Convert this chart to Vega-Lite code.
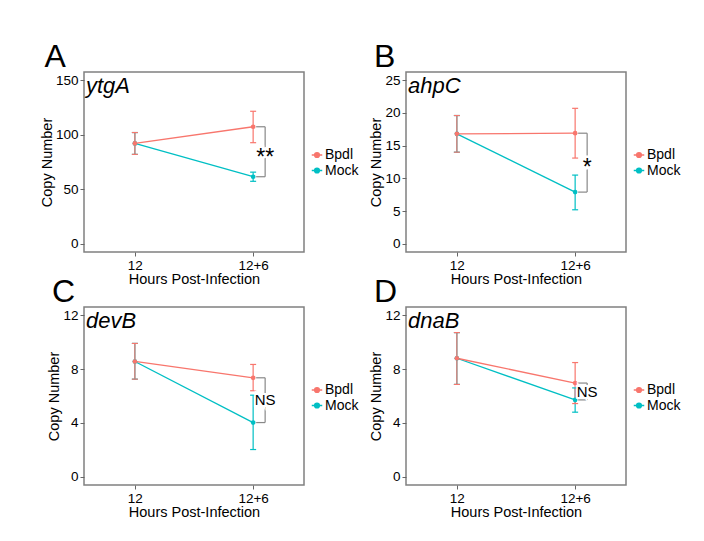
{
  "$schema": "https://vega.github.io/schema/vega-lite/v6.json",
  "background": "white",
  "padding": {"left": 38, "top": 40, "right": 5, "bottom": 5},
  "datasets": {
    "means": [
      {"panel": "A", "hours": "12", "group": "Mock", "mean": 92, "lo": 82, "hi": 102},
      {"panel": "A", "hours": "12", "group": "Bpdl", "mean": 92, "lo": 82, "hi": 102},
      {"panel": "A", "hours": "12+6", "group": "Mock", "mean": 61.5, "lo": 57.3, "hi": 65.7},
      {"panel": "A", "hours": "12+6", "group": "Bpdl", "mean": 107.3, "lo": 92.7, "hi": 121.5},
      {"panel": "B", "hours": "12", "group": "Mock", "mean": 16.8, "lo": 14.0, "hi": 19.6},
      {"panel": "B", "hours": "12", "group": "Bpdl", "mean": 16.8, "lo": 14.0, "hi": 19.6},
      {"panel": "B", "hours": "12+6", "group": "Mock", "mean": 7.9, "lo": 5.2, "hi": 10.5},
      {"panel": "B", "hours": "12+6", "group": "Bpdl", "mean": 16.9, "lo": 13.1, "hi": 20.7},
      {"panel": "C", "hours": "12", "group": "Mock", "mean": 8.56, "lo": 7.25, "hi": 9.9},
      {"panel": "C", "hours": "12", "group": "Bpdl", "mean": 8.56, "lo": 7.25, "hi": 9.9},
      {"panel": "C", "hours": "12+6", "group": "Mock", "mean": 4.03, "lo": 2.03, "hi": 6.06},
      {"panel": "C", "hours": "12+6", "group": "Bpdl", "mean": 7.35, "lo": 6.39, "hi": 8.34},
      {"panel": "D", "hours": "12", "group": "Mock", "mean": 8.8, "lo": 6.86, "hi": 10.7},
      {"panel": "D", "hours": "12", "group": "Bpdl", "mean": 8.8, "lo": 6.86, "hi": 10.7},
      {"panel": "D", "hours": "12+6", "group": "Mock", "mean": 5.71, "lo": 4.8, "hi": 6.6},
      {"panel": "D", "hours": "12+6", "group": "Bpdl", "mean": 6.96, "lo": 5.44, "hi": 8.48}
    ],
    "sig": [
      {"panel": "A", "hi": 107.3, "lo": 61.5, "mid": 84.4, "label": "**"},
      {"panel": "B", "hi": 16.9, "lo": 7.9, "mid": 12.4, "label": "*"},
      {"panel": "C", "hi": 7.35, "lo": 4.03, "mid": 5.69, "label": "NS"},
      {"panel": "D", "hi": 6.96, "lo": 5.71, "mid": 6.33, "label": "NS"}
    ],
    "genes": [
      {"panel": "A", "gene": "ytgA"},
      {"panel": "B", "gene": "ahpC"},
      {"panel": "C", "gene": "devB"},
      {"panel": "D", "gene": "dnaB"}
    ]
  },
  "columns": 2,
  "bounds": "flush",
  "spacing": {"row": 55, "column": 102},
  "resolve": {"scale": {"color": "independent"}, "legend": {"color": "independent"}},
  "concat": [
    {
      "width": 220, "height": 180,
      "title": {"text": "A"},
      "resolve": {"scale": {"x": "independent"}},
      "layer": [
        {
          "layer": [
            {"data": {"name": "means"}, "transform": [{"filter": "datum.panel === 'A'"}],
             "mark": {"type": "line", "strokeWidth": 1.3},
             "encoding": {
               "x": {"field": "hours", "type": "ordinal", "scale": {"type": "point", "padding": 0.43, "domain": ["12", "12+6"]}, "axis": {"title": "Hours Post-Infection", "labelAngle": 0}},
               "y": {"field": "mean", "type": "quantitative", "scale": {"domain": [-7.5, 157.5], "nice": false, "zero": false}, "axis": {"title": "Copy Number", "values": [0, 50, 100, 150], "tickCount": 10}},
               "color": {"field": "group", "type": "nominal", "scale": {"domain": ["Bpdl", "Mock"], "range": ["#F8766D", "#00BFC4"]}}
             }},
            {"data": {"name": "means"}, "transform": [{"filter": "datum.panel === 'A'"}],
             "mark": {"type": "rule", "strokeWidth": 1.2},
             "encoding": {"x": {"field": "hours", "type": "ordinal"}, "y": {"field": "lo", "type": "quantitative"}, "y2": {"field": "hi"}, "color": {"field": "group", "type": "nominal"}}},
            {"data": {"name": "means"}, "transform": [{"filter": "datum.panel === 'A'"}],
             "mark": {"type": "tick", "orient": "horizontal", "size": 6, "thickness": 1.2, "opacity": 1},
             "encoding": {"x": {"field": "hours", "type": "ordinal"}, "y": {"field": "lo", "type": "quantitative"}, "color": {"field": "group", "type": "nominal"}}},
            {"data": {"name": "means"}, "transform": [{"filter": "datum.panel === 'A'"}],
             "mark": {"type": "tick", "orient": "horizontal", "size": 6, "thickness": 1.2, "opacity": 1},
             "encoding": {"x": {"field": "hours", "type": "ordinal"}, "y": {"field": "hi", "type": "quantitative"}, "color": {"field": "group", "type": "nominal"}}},
            {"data": {"name": "means"}, "transform": [{"filter": "datum.panel === 'A'"}],
             "mark": {"type": "point", "filled": true, "size": 22, "opacity": 1},
             "encoding": {"x": {"field": "hours", "type": "ordinal"}, "y": {"field": "mean", "type": "quantitative"}, "color": {"field": "group", "type": "nominal"}}},
            {"data": {"name": "sig"}, "transform": [{"filter": "datum.panel === 'A'"}],
             "mark": {"type": "rule", "color": "#888888", "strokeWidth": 1.2, "xOffset": 12},
             "encoding": {"x": {"datum": "12+6", "type": "ordinal"}, "y": {"field": "hi", "type": "quantitative"}, "y2": {"field": "lo"}}},
            {"data": {"name": "sig"}, "transform": [{"filter": "datum.panel === 'A'"}],
             "mark": {"type": "rule", "color": "#888888", "strokeWidth": 1.2, "xOffset": 3, "x2Offset": 12},
             "encoding": {"x": {"datum": "12+6", "type": "ordinal"}, "x2": {"datum": "12+6"}, "y": {"field": "hi", "type": "quantitative"}}},
            {"data": {"name": "sig"}, "transform": [{"filter": "datum.panel === 'A'"}],
             "mark": {"type": "rule", "color": "#888888", "strokeWidth": 1.2, "xOffset": 3, "x2Offset": 12},
             "encoding": {"x": {"datum": "12+6", "type": "ordinal"}, "x2": {"datum": "12+6"}, "y": {"field": "lo", "type": "quantitative"}}},
            {"data": {"name": "sig"}, "transform": [{"filter": "datum.panel === 'A'"}],
             "mark": {"type": "text", "fontSize": 23, "xOffset": 12, "dy": 6, "fill": "white", "stroke": "white", "strokeWidth": 5},
             "encoding": {"x": {"datum": "12+6", "type": "ordinal"}, "y": {"field": "mid", "type": "quantitative"}, "text": {"field": "label"}}},
            {"data": {"name": "sig"}, "transform": [{"filter": "datum.panel === 'A'"}],
             "mark": {"type": "text", "fontSize": 23, "xOffset": 12, "dy": 6, "color": "black"},
             "encoding": {"x": {"datum": "12+6", "type": "ordinal"}, "y": {"field": "mid", "type": "quantitative"}, "text": {"field": "label"}}}
          ]
        },
        {"data": {"name": "genes"}, "transform": [{"filter": "datum.panel === 'A'"}],
         "mark": {"type": "text", "align": "left", "baseline": "alphabetic", "fontStyle": "italic", "fontSize": 22, "dx": 2, "dy": 21, "color": "black"},
         "encoding": {"x": {"datum": 0, "type": "quantitative", "scale": {"domain": [0, 1]}, "axis": null}, "y": {"datum": 157.5, "type": "quantitative"}, "text": {"field": "gene"}}}
      ]
    },
    {
      "width": 220, "height": 180,
      "title": {"text": "B"},
      "resolve": {"scale": {"x": "independent"}},
      "layer": [
        {
          "layer": [
            {"data": {"name": "means"}, "transform": [{"filter": "datum.panel === 'B'"}],
             "mark": {"type": "line", "strokeWidth": 1.3},
             "encoding": {
               "x": {"field": "hours", "type": "ordinal", "scale": {"type": "point", "padding": 0.43, "domain": ["12", "12+6"]}, "axis": {"title": "Hours Post-Infection", "labelAngle": 0}},
               "y": {"field": "mean", "type": "quantitative", "scale": {"domain": [-1.25, 26.25], "nice": false, "zero": false}, "axis": {"title": "Copy Number", "values": [0, 5, 10, 15, 20, 25], "tickCount": 10}},
               "color": {"field": "group", "type": "nominal", "scale": {"domain": ["Bpdl", "Mock"], "range": ["#F8766D", "#00BFC4"]}}
             }},
            {"data": {"name": "means"}, "transform": [{"filter": "datum.panel === 'B'"}],
             "mark": {"type": "rule", "strokeWidth": 1.2},
             "encoding": {"x": {"field": "hours", "type": "ordinal"}, "y": {"field": "lo", "type": "quantitative"}, "y2": {"field": "hi"}, "color": {"field": "group", "type": "nominal"}}},
            {"data": {"name": "means"}, "transform": [{"filter": "datum.panel === 'B'"}],
             "mark": {"type": "tick", "orient": "horizontal", "size": 6, "thickness": 1.2, "opacity": 1},
             "encoding": {"x": {"field": "hours", "type": "ordinal"}, "y": {"field": "lo", "type": "quantitative"}, "color": {"field": "group", "type": "nominal"}}},
            {"data": {"name": "means"}, "transform": [{"filter": "datum.panel === 'B'"}],
             "mark": {"type": "tick", "orient": "horizontal", "size": 6, "thickness": 1.2, "opacity": 1},
             "encoding": {"x": {"field": "hours", "type": "ordinal"}, "y": {"field": "hi", "type": "quantitative"}, "color": {"field": "group", "type": "nominal"}}},
            {"data": {"name": "means"}, "transform": [{"filter": "datum.panel === 'B'"}],
             "mark": {"type": "point", "filled": true, "size": 22, "opacity": 1},
             "encoding": {"x": {"field": "hours", "type": "ordinal"}, "y": {"field": "mean", "type": "quantitative"}, "color": {"field": "group", "type": "nominal"}}},
            {"data": {"name": "sig"}, "transform": [{"filter": "datum.panel === 'B'"}],
             "mark": {"type": "rule", "color": "#888888", "strokeWidth": 1.2, "xOffset": 12},
             "encoding": {"x": {"datum": "12+6", "type": "ordinal"}, "y": {"field": "hi", "type": "quantitative"}, "y2": {"field": "lo"}}},
            {"data": {"name": "sig"}, "transform": [{"filter": "datum.panel === 'B'"}],
             "mark": {"type": "rule", "color": "#888888", "strokeWidth": 1.2, "xOffset": 3, "x2Offset": 12},
             "encoding": {"x": {"datum": "12+6", "type": "ordinal"}, "x2": {"datum": "12+6"}, "y": {"field": "hi", "type": "quantitative"}}},
            {"data": {"name": "sig"}, "transform": [{"filter": "datum.panel === 'B'"}],
             "mark": {"type": "rule", "color": "#888888", "strokeWidth": 1.2, "xOffset": 3, "x2Offset": 12},
             "encoding": {"x": {"datum": "12+6", "type": "ordinal"}, "x2": {"datum": "12+6"}, "y": {"field": "lo", "type": "quantitative"}}},
            {"data": {"name": "sig"}, "transform": [{"filter": "datum.panel === 'B'"}],
             "mark": {"type": "text", "fontSize": 23, "xOffset": 12, "dy": 5, "fill": "white", "stroke": "white", "strokeWidth": 5},
             "encoding": {"x": {"datum": "12+6", "type": "ordinal"}, "y": {"field": "mid", "type": "quantitative"}, "text": {"field": "label"}}},
            {"data": {"name": "sig"}, "transform": [{"filter": "datum.panel === 'B'"}],
             "mark": {"type": "text", "fontSize": 23, "xOffset": 12, "dy": 5, "color": "black"},
             "encoding": {"x": {"datum": "12+6", "type": "ordinal"}, "y": {"field": "mid", "type": "quantitative"}, "text": {"field": "label"}}}
          ]
        },
        {"data": {"name": "genes"}, "transform": [{"filter": "datum.panel === 'B'"}],
         "mark": {"type": "text", "align": "left", "baseline": "alphabetic", "fontStyle": "italic", "fontSize": 22, "dx": 2, "dy": 21, "color": "black"},
         "encoding": {"x": {"datum": 0, "type": "quantitative", "scale": {"domain": [0, 1]}, "axis": null}, "y": {"datum": 26.25, "type": "quantitative"}, "text": {"field": "gene"}}}
      ]
    },
    {
      "width": 220, "height": 178,
      "title": {"text": "C"},
      "resolve": {"scale": {"x": "independent"}},
      "layer": [
        {
          "layer": [
            {"data": {"name": "means"}, "transform": [{"filter": "datum.panel === 'C'"}],
             "mark": {"type": "line", "strokeWidth": 1.3},
             "encoding": {
               "x": {"field": "hours", "type": "ordinal", "scale": {"type": "point", "padding": 0.43, "domain": ["12", "12+6"]}, "axis": {"title": "Hours Post-Infection", "labelAngle": 0}},
               "y": {"field": "mean", "type": "quantitative", "scale": {"domain": [-0.6, 12.6], "nice": false, "zero": false}, "axis": {"title": "Copy Number", "values": [0, 4, 8, 12], "tickCount": 10}},
               "color": {"field": "group", "type": "nominal", "scale": {"domain": ["Bpdl", "Mock"], "range": ["#F8766D", "#00BFC4"]}}
             }},
            {"data": {"name": "means"}, "transform": [{"filter": "datum.panel === 'C'"}],
             "mark": {"type": "rule", "strokeWidth": 1.2},
             "encoding": {"x": {"field": "hours", "type": "ordinal"}, "y": {"field": "lo", "type": "quantitative"}, "y2": {"field": "hi"}, "color": {"field": "group", "type": "nominal"}}},
            {"data": {"name": "means"}, "transform": [{"filter": "datum.panel === 'C'"}],
             "mark": {"type": "tick", "orient": "horizontal", "size": 6, "thickness": 1.2, "opacity": 1},
             "encoding": {"x": {"field": "hours", "type": "ordinal"}, "y": {"field": "lo", "type": "quantitative"}, "color": {"field": "group", "type": "nominal"}}},
            {"data": {"name": "means"}, "transform": [{"filter": "datum.panel === 'C'"}],
             "mark": {"type": "tick", "orient": "horizontal", "size": 6, "thickness": 1.2, "opacity": 1},
             "encoding": {"x": {"field": "hours", "type": "ordinal"}, "y": {"field": "hi", "type": "quantitative"}, "color": {"field": "group", "type": "nominal"}}},
            {"data": {"name": "means"}, "transform": [{"filter": "datum.panel === 'C'"}],
             "mark": {"type": "point", "filled": true, "size": 22, "opacity": 1},
             "encoding": {"x": {"field": "hours", "type": "ordinal"}, "y": {"field": "mean", "type": "quantitative"}, "color": {"field": "group", "type": "nominal"}}},
            {"data": {"name": "sig"}, "transform": [{"filter": "datum.panel === 'C'"}],
             "mark": {"type": "rule", "color": "#888888", "strokeWidth": 1.2, "xOffset": 12},
             "encoding": {"x": {"datum": "12+6", "type": "ordinal"}, "y": {"field": "hi", "type": "quantitative"}, "y2": {"field": "lo"}}},
            {"data": {"name": "sig"}, "transform": [{"filter": "datum.panel === 'C'"}],
             "mark": {"type": "rule", "color": "#888888", "strokeWidth": 1.2, "xOffset": 3, "x2Offset": 12},
             "encoding": {"x": {"datum": "12+6", "type": "ordinal"}, "x2": {"datum": "12+6"}, "y": {"field": "hi", "type": "quantitative"}}},
            {"data": {"name": "sig"}, "transform": [{"filter": "datum.panel === 'C'"}],
             "mark": {"type": "rule", "color": "#888888", "strokeWidth": 1.2, "xOffset": 3, "x2Offset": 12},
             "encoding": {"x": {"datum": "12+6", "type": "ordinal"}, "x2": {"datum": "12+6"}, "y": {"field": "lo", "type": "quantitative"}}},
            {"data": {"name": "sig"}, "transform": [{"filter": "datum.panel === 'C'"}],
             "mark": {"type": "text", "fontSize": 15, "xOffset": 12, "fill": "white", "stroke": "white", "strokeWidth": 4},
             "encoding": {"x": {"datum": "12+6", "type": "ordinal"}, "y": {"field": "mid", "type": "quantitative"}, "text": {"field": "label"}}},
            {"data": {"name": "sig"}, "transform": [{"filter": "datum.panel === 'C'"}],
             "mark": {"type": "text", "fontSize": 15, "xOffset": 12, "color": "black"},
             "encoding": {"x": {"datum": "12+6", "type": "ordinal"}, "y": {"field": "mid", "type": "quantitative"}, "text": {"field": "label"}}}
          ]
        },
        {"data": {"name": "genes"}, "transform": [{"filter": "datum.panel === 'C'"}],
         "mark": {"type": "text", "align": "left", "baseline": "alphabetic", "fontStyle": "italic", "fontSize": 22, "dx": 2, "dy": 21, "color": "black"},
         "encoding": {"x": {"datum": 0, "type": "quantitative", "scale": {"domain": [0, 1]}, "axis": null}, "y": {"datum": 12.6, "type": "quantitative"}, "text": {"field": "gene"}}}
      ]
    },
    {
      "width": 220, "height": 178,
      "title": {"text": "D"},
      "resolve": {"scale": {"x": "independent"}},
      "layer": [
        {
          "layer": [
            {"data": {"name": "means"}, "transform": [{"filter": "datum.panel === 'D'"}],
             "mark": {"type": "line", "strokeWidth": 1.3},
             "encoding": {
               "x": {"field": "hours", "type": "ordinal", "scale": {"type": "point", "padding": 0.43, "domain": ["12", "12+6"]}, "axis": {"title": "Hours Post-Infection", "labelAngle": 0}},
               "y": {"field": "mean", "type": "quantitative", "scale": {"domain": [-0.6, 12.6], "nice": false, "zero": false}, "axis": {"title": "Copy Number", "values": [0, 4, 8, 12], "tickCount": 10}},
               "color": {"field": "group", "type": "nominal", "scale": {"domain": ["Bpdl", "Mock"], "range": ["#F8766D", "#00BFC4"]}}
             }},
            {"data": {"name": "means"}, "transform": [{"filter": "datum.panel === 'D'"}],
             "mark": {"type": "rule", "strokeWidth": 1.2},
             "encoding": {"x": {"field": "hours", "type": "ordinal"}, "y": {"field": "lo", "type": "quantitative"}, "y2": {"field": "hi"}, "color": {"field": "group", "type": "nominal"}}},
            {"data": {"name": "means"}, "transform": [{"filter": "datum.panel === 'D'"}],
             "mark": {"type": "tick", "orient": "horizontal", "size": 6, "thickness": 1.2, "opacity": 1},
             "encoding": {"x": {"field": "hours", "type": "ordinal"}, "y": {"field": "lo", "type": "quantitative"}, "color": {"field": "group", "type": "nominal"}}},
            {"data": {"name": "means"}, "transform": [{"filter": "datum.panel === 'D'"}],
             "mark": {"type": "tick", "orient": "horizontal", "size": 6, "thickness": 1.2, "opacity": 1},
             "encoding": {"x": {"field": "hours", "type": "ordinal"}, "y": {"field": "hi", "type": "quantitative"}, "color": {"field": "group", "type": "nominal"}}},
            {"data": {"name": "means"}, "transform": [{"filter": "datum.panel === 'D'"}],
             "mark": {"type": "point", "filled": true, "size": 22, "opacity": 1},
             "encoding": {"x": {"field": "hours", "type": "ordinal"}, "y": {"field": "mean", "type": "quantitative"}, "color": {"field": "group", "type": "nominal"}}},
            {"data": {"name": "sig"}, "transform": [{"filter": "datum.panel === 'D'"}],
             "mark": {"type": "rule", "color": "#888888", "strokeWidth": 1.2, "xOffset": 12},
             "encoding": {"x": {"datum": "12+6", "type": "ordinal"}, "y": {"field": "hi", "type": "quantitative"}, "y2": {"field": "lo"}}},
            {"data": {"name": "sig"}, "transform": [{"filter": "datum.panel === 'D'"}],
             "mark": {"type": "rule", "color": "#888888", "strokeWidth": 1.2, "xOffset": 3, "x2Offset": 12},
             "encoding": {"x": {"datum": "12+6", "type": "ordinal"}, "x2": {"datum": "12+6"}, "y": {"field": "hi", "type": "quantitative"}}},
            {"data": {"name": "sig"}, "transform": [{"filter": "datum.panel === 'D'"}],
             "mark": {"type": "rule", "color": "#888888", "strokeWidth": 1.2, "xOffset": 3, "x2Offset": 12},
             "encoding": {"x": {"datum": "12+6", "type": "ordinal"}, "x2": {"datum": "12+6"}, "y": {"field": "lo", "type": "quantitative"}}},
            {"data": {"name": "sig"}, "transform": [{"filter": "datum.panel === 'D'"}],
             "mark": {"type": "text", "fontSize": 15, "xOffset": 12, "fill": "white", "stroke": "white", "strokeWidth": 4},
             "encoding": {"x": {"datum": "12+6", "type": "ordinal"}, "y": {"field": "mid", "type": "quantitative"}, "text": {"field": "label"}}},
            {"data": {"name": "sig"}, "transform": [{"filter": "datum.panel === 'D'"}],
             "mark": {"type": "text", "fontSize": 15, "xOffset": 12, "color": "black"},
             "encoding": {"x": {"datum": "12+6", "type": "ordinal"}, "y": {"field": "mid", "type": "quantitative"}, "text": {"field": "label"}}}
          ]
        },
        {"data": {"name": "genes"}, "transform": [{"filter": "datum.panel === 'D'"}],
         "mark": {"type": "text", "align": "left", "baseline": "alphabetic", "fontStyle": "italic", "fontSize": 22, "dx": 2, "dy": 21, "color": "black"},
         "encoding": {"x": {"datum": 0, "type": "quantitative", "scale": {"domain": [0, 1]}, "axis": null}, "y": {"datum": 12.6, "type": "quantitative"}, "text": {"field": "gene"}}}
      ]
    }
  ],
  "config": {
    "font": "Liberation Sans",
    "view": {"stroke": "#808080", "strokeWidth": 1.5},
    "axis": {"domain": false, "grid": false, "ticks": true, "tickColor": "#666666", "tickSize": 4, "labelFontSize": 13.5, "labelColor": "black", "labelPadding": 2, "labelOverlap": false, "titleFontSize": 14.5, "titleFontWeight": "normal", "titleColor": "black", "titlePadding": 1},
    "title": {"fontSize": 32, "fontWeight": "normal", "anchor": "start", "frame": "bounds", "offset": -2, "dx": 5, "color": "black"},
    "legend": {
      "orient": "none", "legendX": 226, "legendY": 76, "title": null,
      "symbolType": "M-1,0H1M0.45,0A0.45,0.45 0 1 1 -0.45,0A0.45,0.45 0 1 1 0.45,0Z",
      "symbolSize": 110, "symbolStrokeWidth": 1.5, "labelFontSize": 14, "labelColor": "black", "rowPadding": 1.5, "labelOffset": 1,
      "encode": {"symbols": {"update": {
        "fill": {"signal": "datum.value === 'Bpdl' ? '#F8766D' : '#00BFC4'"},
        "stroke": {"signal": "datum.value === 'Bpdl' ? '#F8766D' : '#00BFC4'"},
        "opacity": {"value": 1}
      }}}
    }
  }
}
